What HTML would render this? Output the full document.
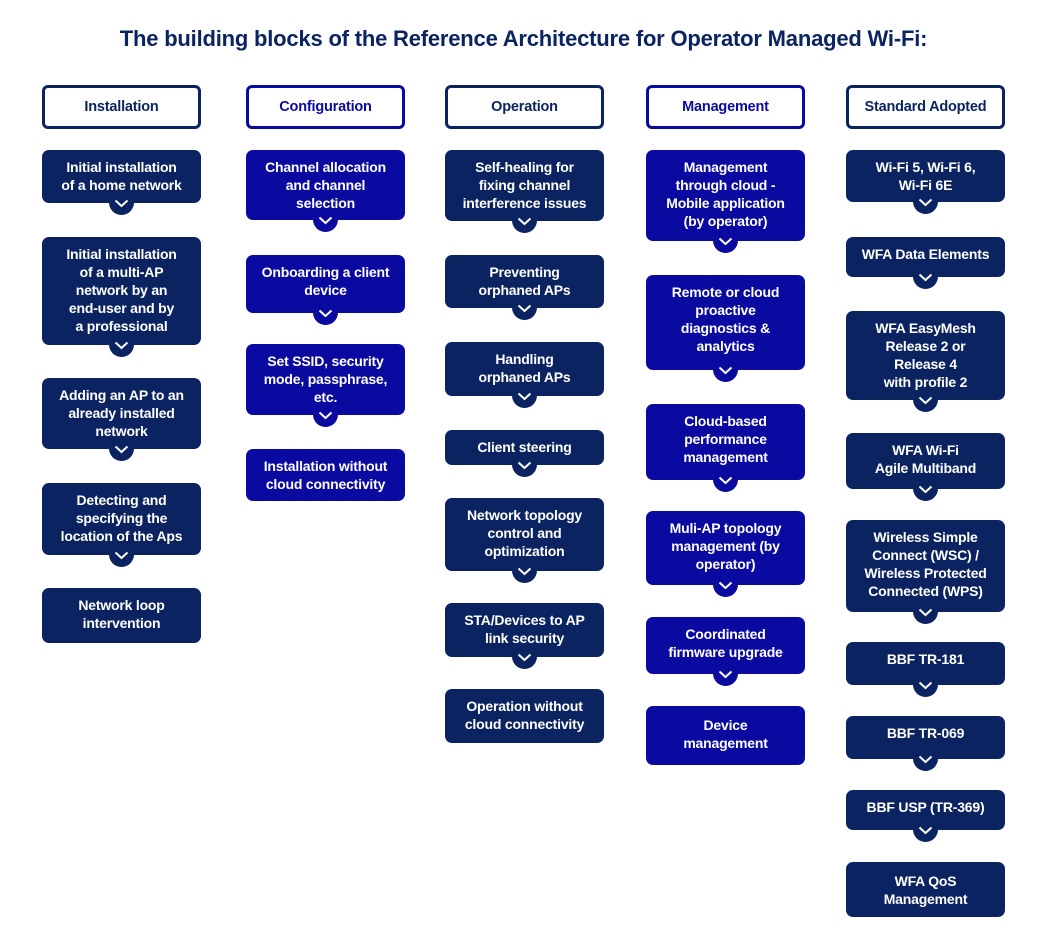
<!DOCTYPE html>
<html><head><meta charset="utf-8"><style>
body{margin:0;width:1047px;height:942px;background:#fff;position:relative;font-family:"Liberation Sans",sans-serif;overflow:hidden}
h1{position:absolute;top:26px;left:0;width:1047px;margin:0;text-align:center;font-size:22px;font-weight:bold;color:#0b2461;letter-spacing:-0.2px}
.h{position:absolute;top:85px;width:153px;height:38px;border:3px solid #0b2461;border-radius:6px;background:#fff;color:#0b2461;font-weight:bold;font-size:14.5px;line-height:38px;text-align:center;letter-spacing:-0.2px}
.h.b{border-color:#0a0aa0;color:#0a0aa0}
.x{position:absolute;width:159px;border-radius:7px;background:#0b2461;color:#fff;font-weight:bold;font-size:14px;line-height:18px;text-align:center;box-sizing:border-box;padding-top:8px;letter-spacing:-0.2px}
.x.b{background:#0a0aa0}
.x.t::after{content:"";position:absolute;left:67px;bottom:-12px;width:25px;height:25px;border-radius:50%;background:inherit;z-index:0}
.x svg{position:absolute;left:72px;bottom:-5px;z-index:1}
.x span{position:relative;z-index:1}
</style></head><body>
<h1>The building blocks of the Reference Architecture for Operator Managed Wi-Fi:</h1>
<div class="h" style="left:42px">Installation</div>
<div class="h b" style="left:246px">Configuration</div>
<div class="h" style="left:445px">Operation</div>
<div class="h b" style="left:646px">Management</div>
<div class="h" style="left:846px">Standard Adopted</div>

<!-- col1 -->
<div class="x t" style="left:42px;top:150px;height:53px"><span>Initial installation<br>of a home network</span><svg width="15" height="9"><path d="M1.5 1.5L7.5 7L13.5 1.5" stroke="#fff" stroke-width="2" fill="none"/></svg></div>
<div class="x t" style="left:42px;top:237px;height:108px"><span>Initial installation<br>of a multi-AP<br>network by an<br>end-user and by<br>a professional</span><svg width="15" height="9"><path d="M1.5 1.5L7.5 7L13.5 1.5" stroke="#fff" stroke-width="2" fill="none"/></svg></div>
<div class="x t" style="left:42px;top:378px;height:71px"><span>Adding an AP to an<br>already installed<br>network</span><svg width="15" height="9"><path d="M1.5 1.5L7.5 7L13.5 1.5" stroke="#fff" stroke-width="2" fill="none"/></svg></div>
<div class="x t" style="left:42px;top:483px;height:72px"><span>Detecting and<br>specifying the<br>location of the Aps</span><svg width="15" height="9"><path d="M1.5 1.5L7.5 7L13.5 1.5" stroke="#fff" stroke-width="2" fill="none"/></svg></div>
<div class="x" style="left:42px;top:588px;height:55px"><span>Network loop<br>intervention</span></div>

<!-- col2 -->
<div class="x b t" style="left:246px;top:150px;height:70px"><span>Channel allocation<br>and channel<br>selection</span><svg width="15" height="9"><path d="M1.5 1.5L7.5 7L13.5 1.5" stroke="#fff" stroke-width="2" fill="none"/></svg></div>
<div class="x b t" style="left:246px;top:255px;height:58px"><span>Onboarding a client<br>device</span><svg width="15" height="9"><path d="M1.5 1.5L7.5 7L13.5 1.5" stroke="#fff" stroke-width="2" fill="none"/></svg></div>
<div class="x b t" style="left:246px;top:344px;height:71px"><span>Set SSID, security<br>mode, passphrase,<br>etc.</span><svg width="15" height="9"><path d="M1.5 1.5L7.5 7L13.5 1.5" stroke="#fff" stroke-width="2" fill="none"/></svg></div>
<div class="x b" style="left:246px;top:449px;height:52px"><span>Installation without<br>cloud connectivity</span></div>

<!-- col3 -->
<div class="x t" style="left:445px;top:150px;height:71px"><span>Self-healing for<br>fixing channel<br>interference issues</span><svg width="15" height="9"><path d="M1.5 1.5L7.5 7L13.5 1.5" stroke="#fff" stroke-width="2" fill="none"/></svg></div>
<div class="x t" style="left:445px;top:255px;height:53px"><span>Preventing<br>orphaned APs</span><svg width="15" height="9"><path d="M1.5 1.5L7.5 7L13.5 1.5" stroke="#fff" stroke-width="2" fill="none"/></svg></div>
<div class="x t" style="left:445px;top:342px;height:54px"><span>Handling<br>orphaned APs</span><svg width="15" height="9"><path d="M1.5 1.5L7.5 7L13.5 1.5" stroke="#fff" stroke-width="2" fill="none"/></svg></div>
<div class="x t" style="left:445px;top:430px;height:35px"><span>Client steering</span><svg width="15" height="9"><path d="M1.5 1.5L7.5 7L13.5 1.5" stroke="#fff" stroke-width="2" fill="none"/></svg></div>
<div class="x t" style="left:445px;top:498px;height:73px"><span>Network topology<br>control and<br>optimization</span><svg width="15" height="9"><path d="M1.5 1.5L7.5 7L13.5 1.5" stroke="#fff" stroke-width="2" fill="none"/></svg></div>
<div class="x t" style="left:445px;top:603px;height:54px"><span>STA/Devices to AP<br>link security</span><svg width="15" height="9"><path d="M1.5 1.5L7.5 7L13.5 1.5" stroke="#fff" stroke-width="2" fill="none"/></svg></div>
<div class="x" style="left:445px;top:689px;height:54px"><span>Operation without<br>cloud connectivity</span></div>

<!-- col4 -->
<div class="x b t" style="left:646px;top:150px;height:91px"><span>Management<br>through cloud -<br>Mobile application<br>(by operator)</span><svg width="15" height="9"><path d="M1.5 1.5L7.5 7L13.5 1.5" stroke="#fff" stroke-width="2" fill="none"/></svg></div>
<div class="x b t" style="left:646px;top:275px;height:95px"><span>Remote or cloud<br>proactive<br>diagnostics &amp;<br>analytics</span><svg width="15" height="9"><path d="M1.5 1.5L7.5 7L13.5 1.5" stroke="#fff" stroke-width="2" fill="none"/></svg></div>
<div class="x b t" style="left:646px;top:404px;height:76px"><span>Cloud-based<br>performance<br>management</span><svg width="15" height="9"><path d="M1.5 1.5L7.5 7L13.5 1.5" stroke="#fff" stroke-width="2" fill="none"/></svg></div>
<div class="x b t" style="left:646px;top:511px;height:74px"><span>Muli-AP topology<br>management (by<br>operator)</span><svg width="15" height="9"><path d="M1.5 1.5L7.5 7L13.5 1.5" stroke="#fff" stroke-width="2" fill="none"/></svg></div>
<div class="x b t" style="left:646px;top:617px;height:57px"><span>Coordinated<br>firmware upgrade</span><svg width="15" height="9"><path d="M1.5 1.5L7.5 7L13.5 1.5" stroke="#fff" stroke-width="2" fill="none"/></svg></div>
<div class="x b" style="left:646px;top:706px;height:59px;padding-top:10px"><span>Device<br>management</span></div>

<!-- col5 -->
<div class="x t" style="left:846px;top:150px;height:52px"><span>Wi-Fi 5, Wi-Fi 6,<br>Wi-Fi 6E</span><svg width="15" height="9"><path d="M1.5 1.5L7.5 7L13.5 1.5" stroke="#fff" stroke-width="2" fill="none"/></svg></div>
<div class="x t" style="left:846px;top:237px;height:40px"><span>WFA Data Elements</span><svg width="15" height="9"><path d="M1.5 1.5L7.5 7L13.5 1.5" stroke="#fff" stroke-width="2" fill="none"/></svg></div>
<div class="x t" style="left:846px;top:311px;height:89px"><span>WFA EasyMesh<br>Release 2 or<br>Release 4<br>with profile 2</span><svg width="15" height="9"><path d="M1.5 1.5L7.5 7L13.5 1.5" stroke="#fff" stroke-width="2" fill="none"/></svg></div>
<div class="x t" style="left:846px;top:433px;height:56px"><span>WFA Wi-Fi<br>Agile Multiband</span><svg width="15" height="9"><path d="M1.5 1.5L7.5 7L13.5 1.5" stroke="#fff" stroke-width="2" fill="none"/></svg></div>
<div class="x t" style="left:846px;top:520px;height:92px"><span>Wireless Simple<br>Connect (WSC) /<br>Wireless Protected<br>Connected (WPS)</span><svg width="15" height="9"><path d="M1.5 1.5L7.5 7L13.5 1.5" stroke="#fff" stroke-width="2" fill="none"/></svg></div>
<div class="x t" style="left:846px;top:642px;height:43px"><span>BBF TR-181</span><svg width="15" height="9"><path d="M1.5 1.5L7.5 7L13.5 1.5" stroke="#fff" stroke-width="2" fill="none"/></svg></div>
<div class="x t" style="left:846px;top:716px;height:43px"><span>BBF TR-069</span><svg width="15" height="9"><path d="M1.5 1.5L7.5 7L13.5 1.5" stroke="#fff" stroke-width="2" fill="none"/></svg></div>
<div class="x t" style="left:846px;top:790px;height:40px"><span>BBF USP (TR-369)</span><svg width="15" height="9"><path d="M1.5 1.5L7.5 7L13.5 1.5" stroke="#fff" stroke-width="2" fill="none"/></svg></div>
<div class="x" style="left:846px;top:862px;height:55px;padding-top:10px"><span>WFA QoS<br>Management</span></div>
</body></html>
